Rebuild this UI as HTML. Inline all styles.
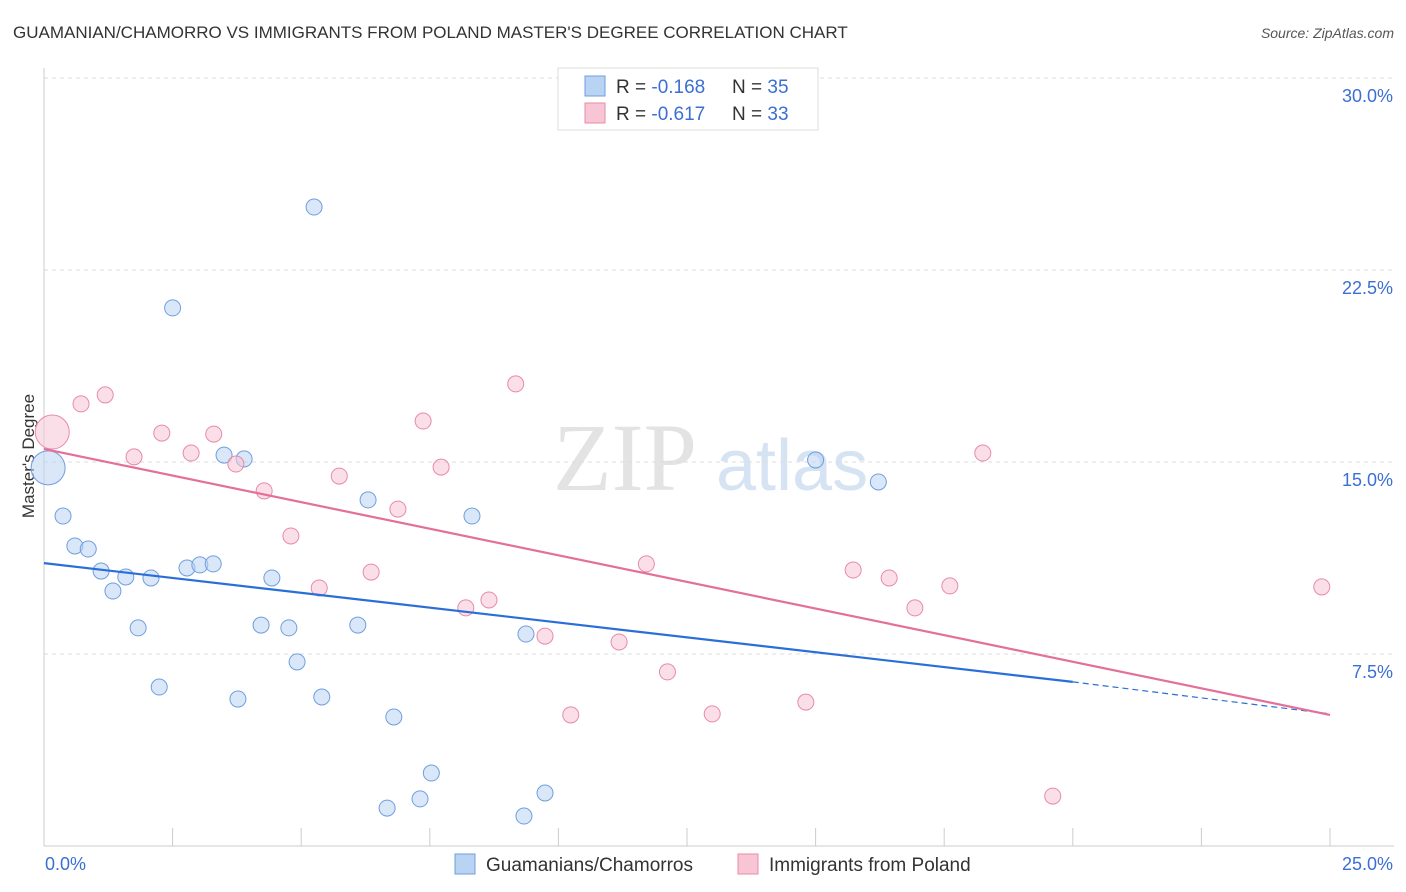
<!DOCTYPE html>
<html><head><meta charset="utf-8">
<style>
body{margin:0;background:#fff;font-family:"Liberation Sans",sans-serif;}
#wrap{position:relative;width:1406px;height:892px;overflow:hidden}
.title{position:absolute;left:13px;top:23px;font-size:17px;color:#333}
.source{position:absolute;right:12px;top:25px;font-size:14px;color:#555;font-style:italic}
</style></head><body>
<div id="wrap">
<div class="title">GUAMANIAN/CHAMORRO VS IMMIGRANTS FROM POLAND MASTER'S DEGREE CORRELATION CHART</div>
<div class="source">Source: ZipAtlas.com</div>
<svg id="chart" width="1406" height="892" style="position:absolute;left:0;top:0"></svg>
</div>
<script>
const blueX=[0.08,0.37,0.6,0.86,1.11,1.34,1.59,1.83,2.08,2.24,2.5,2.78,3.03,3.29,3.5,3.77,3.89,4.22,4.43,4.76,4.92,5.25,5.4,6.1,6.3,6.67,6.8,7.31,7.53,8.32,9.33,9.37,9.74,15.0,16.22];
const blueY=[14.77,12.89,11.72,11.6,10.74,9.96,10.51,8.52,10.47,6.21,21.02,10.86,10.98,11.02,15.27,5.74,15.12,8.63,10.47,8.52,7.19,24.96,5.82,8.63,13.52,1.48,5.04,1.84,2.85,12.89,1.17,8.28,2.07,15.08,14.22];
const pinkX=[0.16,0.72,1.19,1.75,2.29,2.86,3.3,3.73,4.28,4.8,5.35,5.74,6.36,6.88,7.37,7.72,8.2,8.65,9.17,9.74,10.24,11.18,11.71,12.12,12.99,14.81,15.73,16.43,16.93,17.61,18.25,19.61,24.84];
const pinkY=[16.17,17.27,17.62,15.2,16.13,15.35,16.09,14.92,13.87,12.11,10.08,14.45,10.7,13.16,16.6,14.8,9.3,9.61,18.05,8.2,5.12,7.97,11.02,6.8,5.16,5.62,10.78,10.47,9.3,10.16,15.35,1.95,10.12];
const blueLine=[11.05,6.41]; // y at x=0 and x=20 (solid end)
const blueDashEnd=[25,5.16];
const pinkLine=[15.51,5.12]; // x=0, x=25
const yTicks=[7.5,15,22.5,30];
const yTickLabels=["7.5%","15.0%","22.5%","30.0%"];
const xTicks=[0,2.5,5,7.5,10,12.5,15,17.5,20,22.5,25];

const NS="http://www.w3.org/2000/svg";
const svg=document.getElementById('chart');
const X=v=>44+v/25*1286;
const Y=v=>846-v*25.6;
function mk(tag,attrs,parent){const e=document.createElementNS(NS,tag);for(const k in attrs)e.setAttribute(k,attrs[k]);(parent||svg).appendChild(e);return e;}

// watermark
let wm=mk('text',{x:553,y:490,'font-size':96,fill:'#e3e3e3','font-family':'Liberation Serif, serif'});wm.textContent='ZIP';


let wm2=mk('text',{x:716,y:490,'font-size':72,fill:'#d6e3f3','font-family':'Liberation Sans, sans-serif'});wm2.textContent='atlas';



// gridlines & y labels
yTicks.forEach((t,i)=>{
 const g=mk('line',{x1:44,x2:1394,y1:Y(t),y2:Y(t),stroke:'#dcdcdc','stroke-dasharray':'4,4'});
 
 
 const l=mk('text',{x:1393,y:Y(t)+24,'text-anchor':'end','font-size':18,fill:'#3b6fd4'});
 l.textContent=yTickLabels[i];
 
 
});
// axes
let ax=mk('line',{x1:44,x2:44,y1:68,y2:846,stroke:'#ccc'});


let axx=mk('line',{x1:44,x2:1394,y1:846,y2:846,stroke:'#ccc'});


xTicks.forEach(t=>{
 const tk=mk('line',{x1:X(t),x2:X(t),y1:828,y2:846,stroke:'#ccc'});
 
 
});
let xl0=mk('text',{x:45,y:870,'font-size':18,fill:'#3b6fd4'});xl0.textContent='0.0%';


let xl1=mk('text',{x:1393,y:870,'text-anchor':'end','font-size':18,fill:'#3b6fd4'});xl1.textContent='25.0%';


let yt=mk('text',{x:34,y:456,'font-size':17,fill:'#333','text-anchor':'middle',transform:'rotate(-90 34 456)'});yt.textContent="Master's Degree";



// points
function pts(xs,ys,fill,stroke,name){
 xs.forEach((x,i)=>{
  const big=i===0;
  const c=mk('circle',{cx:X(x),cy:Y(ys[i]),r:big?17:8,fill:fill,'fill-opacity':0.55,stroke:stroke,'stroke-width':1});
  
  
 });
}
pts(blueX,blueY,'#b9d3f3','#6f9fde','point-guamanian');
pts(pinkX,pinkY,'#f8c5d5','#e88aa8','point-poland');

// trend lines
let bl=mk('line',{x1:X(0),y1:Y(blueLine[0]),x2:X(20),y2:Y(blueLine[1]),stroke:'#2a6fd8','stroke-width':2.2});


let bd=mk('line',{x1:X(20),y1:Y(blueLine[1]),x2:X(blueDashEnd[0]),y2:Y(blueDashEnd[1]),stroke:'#2a6fd8','stroke-width':1.2,'stroke-dasharray':'6,4'});


let pl=mk('line',{x1:X(0),y1:Y(pinkLine[0]),x2:X(25),y2:Y(pinkLine[1]),stroke:'#e4709a','stroke-width':2.2});



// top legend
let lg=mk('rect',{x:558,y:68,width:260,height:62,fill:'#fff',stroke:'#ddd'});


[['#b9d3f3','#6f9fde','-0.168','35',86],['#f8c5d5','#e88aa8','-0.617','33',113]].forEach((r,i)=>{
 const s=mk('rect',{x:585,y:r[4]-10,width:20,height:20,fill:r[0],stroke:r[1]});
 
 
 const t=mk('text',{x:616,y:r[4]+7,'font-size':19,fill:'#333'});
 t.innerHTML='R = <tspan fill="#3b6fd4">'+r[2]+'</tspan><tspan x="732">N = </tspan><tspan fill="#3b6fd4">'+r[3]+'</tspan>';
 
 
});
// bottom legend
[[455,'#b9d3f3','#6f9fde','Guamanians/Chamorros'],[738,'#f8c5d5','#e88aa8','Immigrants from Poland']].forEach(r=>{
 const s=mk('rect',{x:r[0],y:854,width:20,height:20,fill:r[1],stroke:r[2]});
 
 
 const t=mk('text',{x:r[0]+31,y:871,'font-size':19,fill:'#333'});t.textContent=r[3];
 
 
});
</script>
</body></html>
